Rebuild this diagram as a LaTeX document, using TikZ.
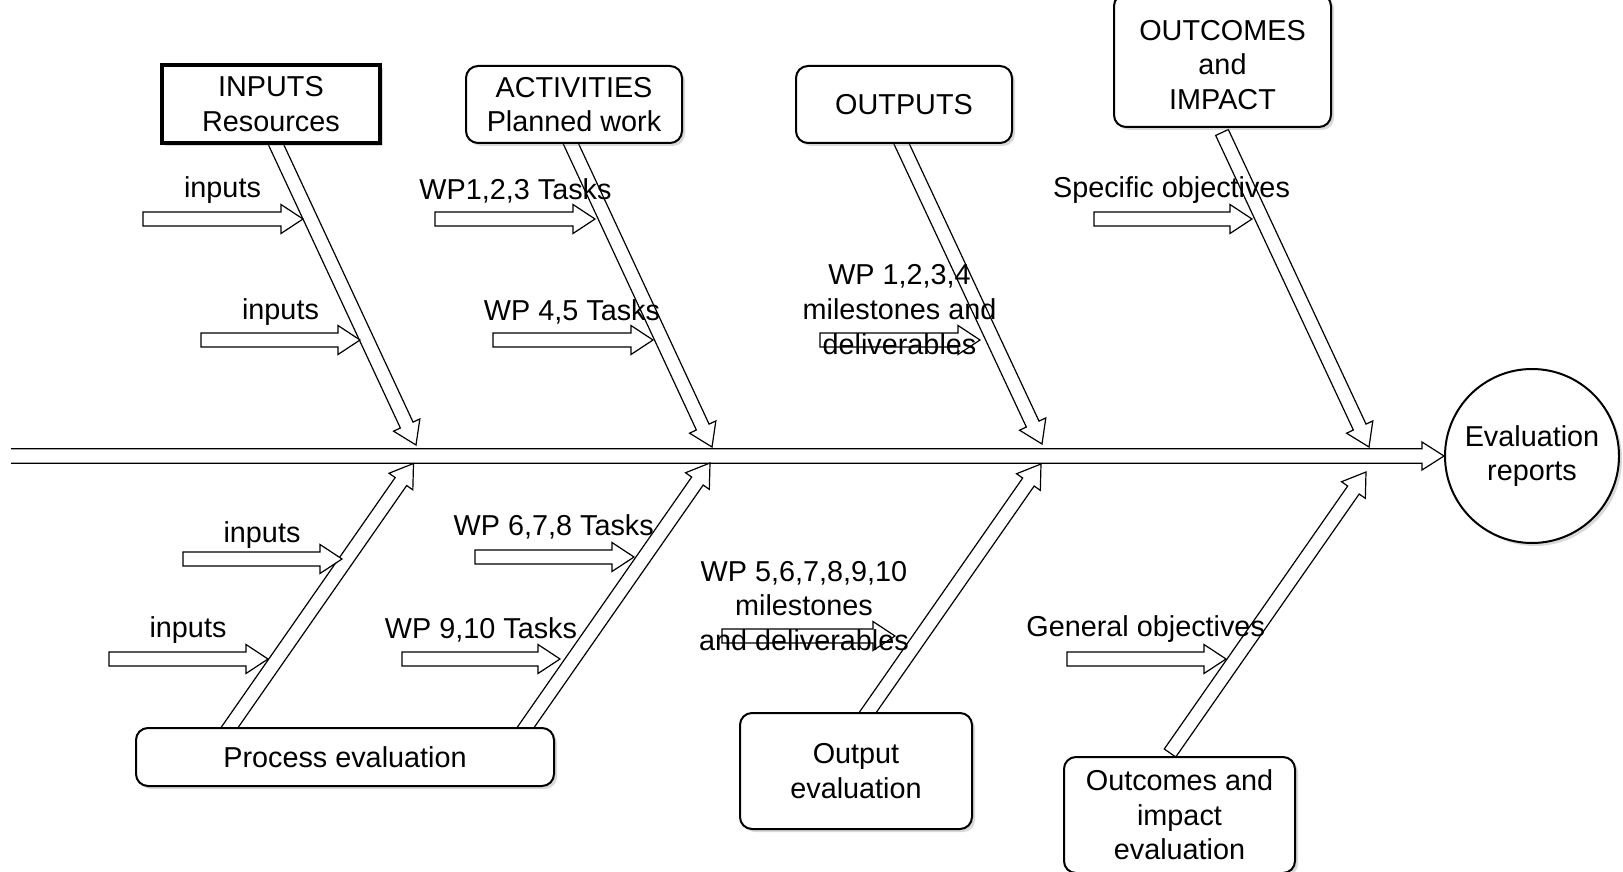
\documentclass[tikz,border=0pt]{standalone}
\usepackage{fontspec}
\setmainfont{Liberation Sans}
\usetikzlibrary{calc,shadows,backgrounds}

% hollow block arrow from #1 to #2
\newcommand{\blockarr}[2]{%
  \path ($(#2)!11pt!(#1)$) coordinate (bah);
  \draw[barrow] ($(#1)!3.5pt!90:(#2)$) -- ($(bah)!3.5pt!90:(#2)$)
    -- ($(bah)!7.25pt!90:(#2)$) -- (#2) -- ($(bah)!7.25pt!-90:(#2)$)
    -- ($(bah)!3.5pt!-90:(#2)$) -- ($(#1)!3.5pt!-90:(#2)$) -- cycle;}

\begin{document}
\begin{tikzpicture}[
  x=0.5pt,y=-0.5pt,
  every node/.style={font=\fontsize{14.4}{17.3}\selectfont,align=center},
  box/.style={draw,line width=1pt,rounded corners=6pt,fill=white,inner sep=2pt,
              drop shadow={shadow xshift=1.5pt,shadow yshift=-1.5pt,opacity=0.3}},
  mlbl/.style={inner sep=0pt},
  lbl/.style={inner sep=0pt,yshift=-1.25pt},
  barrow/.style={draw,fill=white,line width=0.6pt}
]
\useasboundingbox (0,0) rectangle (1623,872);

% boxes
\node[box,sharp corners,line width=1.6pt,minimum width=109pt,minimum height=39pt] (inbox) at (271,104) {INPUTS\\Resources};
\node[box,minimum width=108pt,minimum height=38.5pt] (actbox) at (574,104.5) {ACTIVITIES\\Planned work};
\node[box,minimum width=108pt,minimum height=38.5pt] (outbox) at (904,104.5) {OUTPUTS};
\node[box,minimum width=108.5pt,minimum height=66.5pt,
      label={[mlbl,yshift=-2.25pt]center:OUTCOMES\\and\\IMPACT}] (outcbox) at (1222.5,60.5) {};
\node[box,minimum width=209pt,minimum height=29pt] (procbox) at (345,757) {Process evaluation};
\node[box,minimum width=116pt,minimum height=58pt] (oevbox) at (856,771) {Output\\evaluation};
\node[box,minimum width=115.5pt,minimum height=58pt] (oibox) at (1179.5,815) {Outcomes and\\impact\\evaluation};
\node[box,circle,minimum size=87pt] (report) at (1532,456) {Evaluation\\reports};

% labels
\node[lbl] (in1) at (222.5,188) {inputs};
\node[lbl] (in2) at (280.5,309.5) {inputs};
\node[lbl] (wp123) at (515.5,188) {WP1,2,3 Tasks};
\node[lbl] (wp45) at (572,309.5) {WP 4,5 Tasks};
\node[mlbl] (ms1) at (899.5,309.5) {WP 1,2,3,4\\milestones and\\deliverables};
\node[lbl] (specobj) at (1171.5,188) {Specific objectives};
\node[lbl] (in3) at (262,533) {inputs};
\node[lbl] (in4) at (188,628) {inputs};
\node[lbl] (wp678) at (553.7,524.7) {WP 6,7,8 Tasks};
\node[lbl] (wp910) at (481,627) {WP 9,10 Tasks};
\node[mlbl] (ms2) at (804,606) {WP 5,6,7,8,9,10\\milestones\\and deliverables};
\node[lbl] (genobj) at (1145.7,627) {General objectives};

% tips on the spine
\coordinate (u1) at (416,445);   \coordinate (u2) at (712,447);
\coordinate (u3) at (1042,444);  \coordinate (u4) at (1369,447);
\coordinate (l1) at (413.5,463.5); \coordinate (l2) at (710,463);
\coordinate (l3) at (1041,464);  \coordinate (l4) at (1366,472);
% bone starts
\coordinate (u1s) at ($(inbox.south)+(-4.3,-20)$);
\coordinate (u2s) at ($(actbox.south)+(-12.3,-20)$);
\coordinate (u3s) at ($(outbox.south)+(-11.7,-20)$);
\coordinate (u4s) at ($(outcbox.south)+(-0.5,4.5)$);
\coordinate (l1s) at ($(procbox.north)+(-129,20)$);
\coordinate (l2s) at ($(procbox.north)+(167,20)$);
\coordinate (l3s) at ($(oevbox.north)+(-1.9,20)$);
\coordinate (l4s) at ($(oibox.north)+(-9.5,-3)$);
\coordinate (stail) at (11,456);

\begin{scope}[on background layer]
  % spine
  \path ($(report.west)!11pt!(stail)$) coordinate (sph);
  \draw[barrow] ($(stail)!3.6pt!90:(report.west)$) -- ($(sph)!3.6pt!90:(report.west)$)
    -- ($(sph)!7pt!90:(report.west)$) -- (report.west) -- ($(sph)!7pt!-90:(report.west)$)
    -- ($(sph)!3.6pt!-90:(report.west)$) -- ($(stail)!3.6pt!-90:(report.west)$);
  % bones
  \foreach \b in {u1,u2,u3,u4,l1,l2,l3,l4}
    {\blockarr{\b s}{\b}}
  % small arrows
  \foreach \n/\xa/\xb/\y in {a/143/303/219, b/201/360/340, c/435/595/219, d/493/653/340,
      e/820/980/340, f/1094/1252/219, g/183/342/559, h/109/268/659, i/475/634/557,
      j/402/560/659, k/722/895/636, m/1067/1226/659}
    {\coordinate (\n0) at (\xa,\y); \coordinate (\n1) at (\xb,\y); \blockarr{\n0}{\n1}}
\end{scope}
\end{tikzpicture}
\end{document}
